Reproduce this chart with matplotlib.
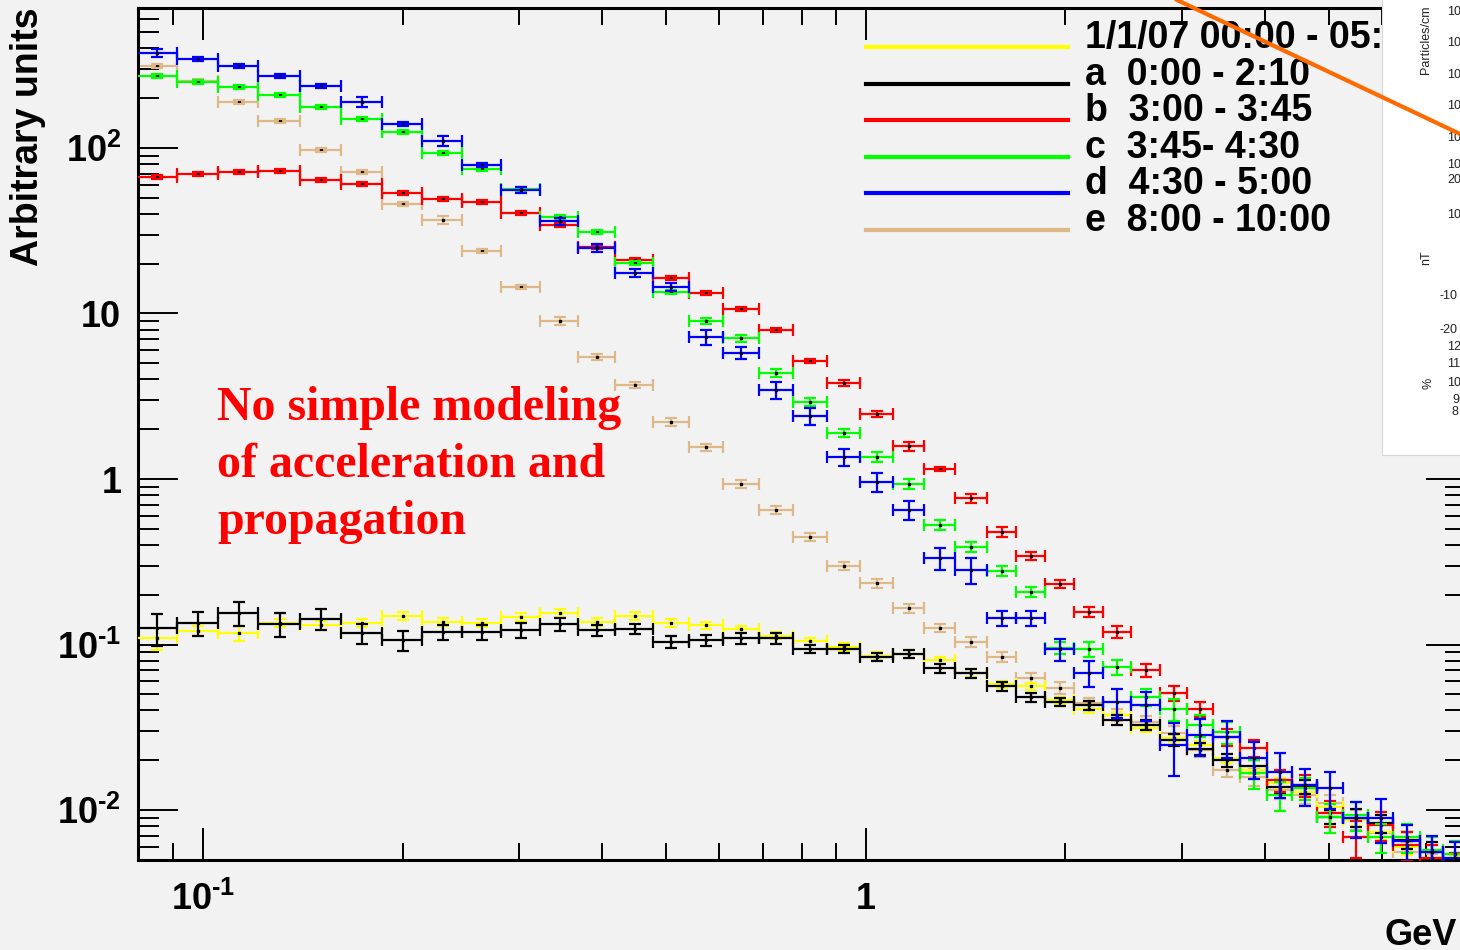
import numpy as np
import matplotlib
matplotlib.use("Agg")
import matplotlib.pyplot as plt
from matplotlib.ticker import FixedLocator, FixedFormatter, LogLocator, NullFormatter
from matplotlib.lines import Line2D
from matplotlib.patches import Rectangle

plt.rcParams['font.family'] = ['Liberation Sans', 'DejaVu Sans']
plt.rcParams['font.weight'] = 'bold'
plt.rcParams['mathtext.fontset'] = 'custom'
plt.rcParams['mathtext.rm'] = 'Liberation Sans:bold'
plt.rcParams['mathtext.bf'] = 'Liberation Sans:bold'
plt.rcParams['mathtext.it'] = 'Liberation Sans:bold'

# ---------------- data ----------------
# kinetic-energy bin edges (GeV)
bin_edges = [0.0792, 0.0913, 0.1053, 0.1211, 0.1400, 0.1615, 0.1862, 0.2140, 0.2458,
             0.2815, 0.3223, 0.3678, 0.4182, 0.4772, 0.5408, 0.6085, 0.6896, 0.7760,
             0.8733, 0.9794, 1.098, 1.223, 1.362, 1.522, 1.684, 1.862, 2.060, 2.278,
             2.510, 2.776, 3.050, 3.338, 3.665, 4.025, 4.390, 4.788, 5.243, 5.717,
             6.235, 6.849, 7.419, 8.035]

labels = ["1/1/07 00:00 - 05:00", "a  0:00 - 2:10", "b  3:00 - 3:45",
          "c  3:45- 4:30", "d  4:30 - 5:00", "e  8:00 - 10:00"]

spec_all = [0.109, 0.121, 0.117, 0.135, 0.131, 0.135, 0.149, 0.137, 0.135, 0.147,
            0.155, 0.137, 0.149, 0.135, 0.131, 0.124, 0.113, 0.105, 0.0966, 0.0853,
            0.0877, 0.0805, 0.0673, 0.0577, 0.0561, 0.0462, 0.0408, 0.0375, 0.0313, 0.0272,
            0.0247, 0.0206, 0.0175, 0.0146, 0.0129, 0.0104, 0.0087, 0.00736, 0.00597, 0.00513, 0.0046]
spec_a = [0.126, 0.135, 0.155, 0.133, 0.143, 0.117, 0.106, 0.119, 0.119, 0.122,
          0.133, 0.122, 0.124, 0.104, 0.106, 0.109, 0.109, 0.094, 0.094, 0.084,
          0.088, 0.072, 0.067, 0.056, 0.048, 0.045, 0.043, 0.035, 0.0327, 0.0265,
          0.0234, 0.0200, 0.0185, 0.0138, 0.0138, 0.0091, 0.0090, 0.0083, 0.0066, 0.0056, 0.0047]
spec_b = [66.9, 69.7, 71.6, 72.6, 64.1, 60.6, 53.4, 49.2, 47.2, 40.5,
          34.3, 25.2, 21.0, 16.4, 13.3, 10.6, 7.94, 5.16, 3.80, 2.47,
          1.58, 1.15, 0.767, 0.478, 0.343, 0.232, 0.157, 0.119, 0.0702, 0.0509,
          0.0408, 0.0276, 0.0237, 0.0152, 0.0142, 0.0096, 0.00687, 0.0081, 0.00615, 0.0051, 0.0046]
spec_c = [272, 251, 234, 209, 177, 150, 125, 93.3, 74.7, 56.5,
          38.3, 31.1, 20.2, 13.5, 9.02, 7.11, 4.37, 2.92, 1.90, 1.36,
          0.933, 0.527, 0.388, 0.278, 0.2075, 0.0953, 0.094, 0.073, 0.048, 0.0408,
          0.0327, 0.0296, 0.0168, 0.0123, 0.0136, 0.0091, 0.0093, 0.0069, 0.0069, 0.0057, 0.0054]
spec_d = [375, 345, 313, 272, 237, 190, 140, 110, 78.9, 55.7,
          36.2, 24.9, 17.6, 14.5, 7.21, 5.77, 3.45, 2.41, 1.36, 0.960,
          0.650, 0.333, 0.282, 0.1445, 0.1445, 0.094, 0.0673, 0.045, 0.043, 0.0247,
          0.0284, 0.0276, 0.0206, 0.0170, 0.0142, 0.0136, 0.0090, 0.0090, 0.0065, 0.0056, 0.0051]
spec_e = [313, 254, 190, 146, 97.3, 71.6, 45.9, 36.7, 23.9, 14.5,
          9.02, 5.46, 3.70, 2.21, 1.56, 0.933, 0.650, 0.447, 0.298, 0.235,
          0.166, 0.126, 0.1036, 0.0841, 0.0628, 0.0546, 0.0443, 0.0375, 0.034, 0.0292,
          0.0231, 0.0175, 0.0158, 0.0132, 0.0123, 0.0110, 0.0088, 0.0073, 0.0056, 0.0047, 0.0045]

# relative statistical errors
relerr_all = [0.15, 0.07, 0.10, 0.06, 0.06, 0.06, 0.06, 0.06, 0.06, 0.06,
              0.06, 0.06, 0.06, 0.05, 0.05, 0.05, 0.05, 0.05, 0.05, 0.05,
              0.05, 0.05, 0.05, 0.05, 0.05, 0.05, 0.05, 0.05, 0.05, 0.05,
              0.06, 0.06, 0.06, 0.07, 0.07, 0.08, 0.08, 0.10, 0.10, 0.12, 0.15]
relerr_a = [0.22, 0.17, 0.16, 0.16, 0.14, 0.14, 0.14, 0.11, 0.11, 0.10,
            0.09, 0.08, 0.07, 0.08, 0.07, 0.07, 0.07, 0.06, 0.06, 0.06,
            0.06, 0.06, 0.06, 0.06, 0.06, 0.06, 0.06, 0.07, 0.07, 0.08,
            0.08, 0.09, 0.09, 0.10, 0.10, 0.10, 0.12, 0.12, 0.12, 0.14, 0.15]
relerr_b = [0.03, 0.03, 0.03, 0.03, 0.03, 0.03, 0.03, 0.03, 0.03, 0.03,
            0.03, 0.03, 0.03, 0.03, 0.03, 0.03, 0.03, 0.03, 0.04, 0.04,
            0.06, 0.03, 0.06, 0.07, 0.06, 0.06, 0.07, 0.08, 0.09, 0.11,
            0.10, 0.12, 0.12, 0.15, 0.15, 0.18, 0.25, 0.20, 0.20, 0.20, 0.20]
relerr_c = [0.03, 0.03, 0.03, 0.03, 0.03, 0.03, 0.03, 0.03, 0.03, 0.03,
            0.03, 0.03, 0.03, 0.03, 0.04, 0.05, 0.05, 0.06, 0.06, 0.07,
            0.07, 0.07, 0.07, 0.07, 0.07, 0.08, 0.10, 0.10, 0.12, 0.15,
            0.15, 0.15, 0.20, 0.20, 0.15, 0.20, 0.20, 0.20, 0.20, 0.20, 0.20]
relerr_d = [0.05, 0.03, 0.03, 0.03, 0.03, 0.07, 0.03, 0.07, 0.03, 0.04,
            0.05, 0.06, 0.06, 0.06, 0.10, 0.08, 0.12, 0.12, 0.12, 0.13,
            0.13, 0.15, 0.18, 0.10, 0.10, 0.15, 0.18, 0.20, 0.20, 0.35,
            0.25, 0.25, 0.25, 0.30, 0.25, 0.25, 0.25, 0.30, 0.25, 0.25, 0.25]
relerr_e = [0.03, 0.03, 0.03, 0.03, 0.03, 0.03, 0.03, 0.06, 0.03, 0.03,
            0.05, 0.04, 0.04, 0.05, 0.05, 0.05, 0.05, 0.06, 0.06, 0.06,
            0.06, 0.06, 0.07, 0.07, 0.07, 0.08, 0.08, 0.08, 0.09, 0.10,
            0.10, 0.10, 0.12, 0.12, 0.12, 0.12, 0.14, 0.14, 0.15, 0.15, 0.15]

colors = ["#ffff00", "#000000", "#ff0000", "#00ff00", "#0000ff", "#deb887"]

# ---------------- figure ----------------
W, H = 1460, 950
BG = "#f2f2f2"
fig = plt.figure(figsize=(W / 100, H / 100), dpi=100, facecolor=BG)


def fx(px):
    return px / W


def fy(py):
    return 1 - py / H


ax = fig.add_axes([fx(138), fy(860), fx(1466) - fx(138), fy(8) - fy(860)])
ax.set_facecolor(BG)
ax.set_xscale('log')
ax.set_yscale('log')
ax.set_xlim(0.0798, 8.04)
ax.set_ylim(0.00499, 701)

edges = np.array(bin_edges)
lo, hi = edges[:-1], edges[1:]
xc = 0.5 * (lo + hi)

series = [
    (spec_e, relerr_e, colors[5]),
    (spec_all, relerr_all, colors[0]),
    (spec_a, relerr_a, colors[1]),
    (spec_b, relerr_b, colors[2]),
    (spec_c, relerr_c, colors[3]),
    (spec_d, relerr_d, colors[4]),
]
for i, (vals, rel, col) in enumerate(series):
    v = np.array(vals)
    e = np.array(rel) * v
    z = 2 + i
    eb = ax.errorbar(xc, v, xerr=[xc - lo, hi - xc], yerr=e, fmt='none',
                     ecolor=col, elinewidth=1.6, capsize=4.3, capthick=1.6,
                     zorder=z)
    for cap in eb[1]:
        cap.set_zorder(z + 0.5)
    ax.plot(xc, v, ls='none', marker='s', ms=1.4, mec='k', mfc='k',
            zorder=z + 0.3)

# axes frame and ticks
for sp in ax.spines.values():
    sp.set_linewidth(2.2)

ax.xaxis.set_major_locator(FixedLocator([0.1, 1.0]))
ax.xaxis.set_major_formatter(FixedFormatter([r'$10^{\text{-}1}$', '1']))
ax.xaxis.set_minor_locator(LogLocator(base=10, subs=np.arange(2, 10)))
ax.xaxis.set_minor_formatter(NullFormatter())
ax.yaxis.set_major_locator(FixedLocator([1e-2, 1e-1, 1, 10, 100]))
ax.yaxis.set_major_formatter(FixedFormatter([r'$10^{\text{-}2}$', r'$10^{\text{-}1}$',
                                             '1', '10', r'$10^{2}$']))
ax.yaxis.set_minor_locator(LogLocator(base=10, subs=np.arange(2, 10)))
ax.yaxis.set_minor_formatter(NullFormatter())

ax.tick_params(which='both', direction='in', top=True, right=True,
               labeltop=False, labelright=False, width=1.4)
ax.tick_params(axis='x', which='major', length=23, pad=16, labelsize=26)
ax.tick_params(axis='x', which='minor', length=12)
ax.tick_params(axis='y', which='major', length=29, pad=12, labelsize=26)
ax.tick_params(axis='y', which='minor', length=15)

# axis titles
fig.text(fx(28), fy(8), 'Arbitrary units', rotation=90, ha='center', va='top',
         fontsize=27, fontweight='bold')
fig.text(fx(1385), fy(945), 'GeV', ha='left', va='baseline',
         fontsize=26, fontweight='bold')

# neighbouring panel with particle / field / neutron-monitor plots
panel = Rectangle((fx(1382), fy(455)), fx(1480) - fx(1382), fy(0) - fy(455) + 0.01,
                  transform=fig.transFigure, facecolor='white',
                  edgecolor='#d8d8d8', lw=0.8, zorder=5)
fig.add_artist(panel)

# legend (its right end runs under the neighbouring panel)
legend_clip = Rectangle((0, 0), fx(1382), 1, transform=fig.transFigure,
                        facecolor='none', edgecolor='none')
legend_y = [47, 84, 120, 157, 193, 230]
for yy, lab, col in zip(legend_y, labels, colors):
    fig.add_artist(Line2D([fx(866), fx(1068)], [fy(yy), fy(yy)],
                          transform=fig.transFigure, color=col, lw=3.0, zorder=3))
    t = fig.text(fx(1085), fy(yy + 1), lab, ha='left', va='baseline',
                 fontsize=27, fontweight='bold', zorder=3)
    t.set_clip_path(legend_clip)

# annotation
note_lines = ["No simple modeling", "of acceleration and", "propagation"]
for yy, line in zip([420, 477, 534], note_lines):
    fig.text(fx(217), fy(yy), line, ha='left', va='baseline', color='#ff0000',
             fontsize=34.5, fontweight='bold', family=['Liberation Serif', 'DejaVu Serif'])

panel_labels = [(12, '10'), (43, '10'), (75, '10'), (106, '10'), (138, '10'),
                (165, '10'), (180, '20'), (215, '10'), (296, '-10'), (330, '-20'),
                (347, '12'), (364, '11'), (383, '10'), (400, '9'), (412, '8')]
for yy, t in panel_labels:
    xx = 1447 if not t.startswith('-') else 1440
    if t in ('9', '8'):
        xx = 1452
    fig.text(fx(xx), fy(yy), t, ha='left', va='center', fontsize=9,
             fontweight='normal', color='#222222', zorder=6)
fig.text(fx(1426), fy(40), 'Particles/cm', rotation=90, ha='center', va='center',
         fontsize=9, fontweight='normal', color='#222222', zorder=6)
fig.text(fx(1426), fy(258), 'nT', rotation=90, ha='center', va='center',
         fontsize=9, fontweight='normal', color='#222222', zorder=6)
fig.text(fx(1428), fy(383), '%', rotation=90, ha='center', va='center',
         fontsize=9, fontweight='normal', color='#222222', zorder=6)

# pointer line to the neighbouring panel
fig.add_artist(Line2D([fx(1177), fx(1458)], [fy(0), fy(133)],
                      transform=fig.transFigure, color='#ff6a00', lw=3.0, zorder=8))

fig.savefig('out.png', dpi=100, facecolor=BG)
